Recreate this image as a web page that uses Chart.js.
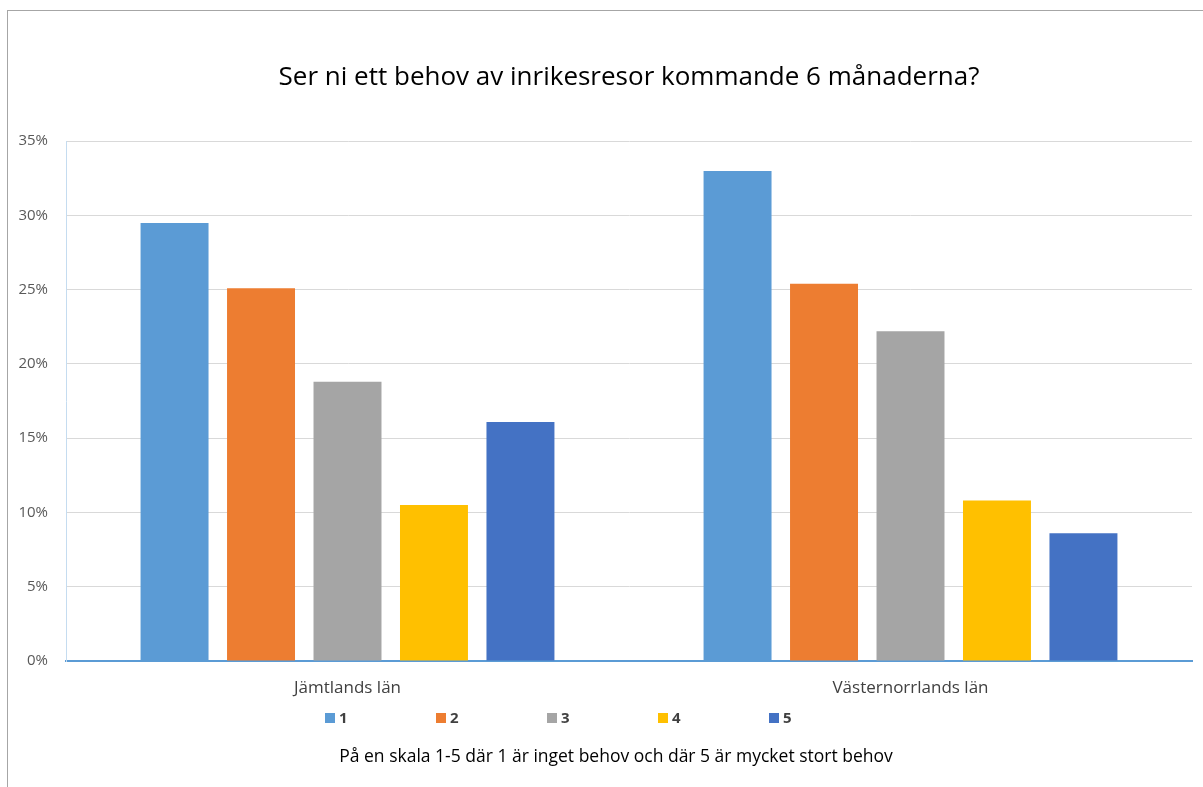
<!DOCTYPE html>
<html lang="sv">
<head>
<meta charset="utf-8">
<title>Inrikesresor</title>
<script src="https://cdn.jsdelivr.net/npm/chart.js@4.4.1/dist/chart.umd.min.js"></script>
<style>
    html, body { margin: 0; padding: 0; background: #ffffff; overflow: hidden; }
    #frame {
        position: absolute;
        left: 7px;
        top: 10px;
        width: 1217px;
        height: 777px;
        border-top: 1px solid #a6a6a6;
        border-left: 1px solid #a6a6a6;
    }
    #chartBox { position: relative; width: 1216px; height: 776px; }
</style>
</head>
<body>
<div id="frame">
    <div id="chartBox"><canvas id="behovChart"></canvas></div>
</div>
<script>
// Data
const regions = ['Jämtlands län', 'Västernorrlands län'];
const scaleSteps = ['1', '2', '3', '4', '5'];
const step1 = [29.5, 33.0];
const step2 = [25.1, 25.4];
const step3 = [18.8, 22.2];
const step4 = [10.5, 10.8];
const step5 = [16.1, 8.6];
const yTicks = [0, 5, 10, 15, 20, 25, 30, 35];

const stepColors = ['#5b9bd5', '#ed7d31', '#a5a5a5', '#ffc000', '#4472c4'];
const seriesValues = [step1, step2, step3, step4, step5];

const fontFamily = '"Open Sans", "Liberation Sans", sans-serif';

// Legend drawn below the category labels, spaced like the original
const bottomLegend = {
    id: 'bottomLegend',
    afterDraw(chart) {
        const ctx = chart.ctx;
        const y = chart.scales.x.bottom + 12;
        const startX = chart.chartArea.left + 259;
        ctx.save();
        ctx.font = 'bold 15px ' + fontFamily;
        ctx.textBaseline = 'middle';
        ctx.textAlign = 'left';
        chart.data.datasets.forEach((ds, i) => {
            const x = startX + i * 111;
            ctx.fillStyle = ds.backgroundColor;
            ctx.fillRect(x, y - 5, 10, 10);
            ctx.fillStyle = '#404040';
            ctx.fillText(ds.label, x + 14, y + 1);
        });
        ctx.restore();
    }
};

const ctx = document.getElementById('behovChart').getContext('2d');

const behovChart = new Chart(ctx, {
    type: 'bar',
    data: {
        labels: regions,
        datasets: scaleSteps.map((label, i) => ({
            label: label,
            data: seriesValues[i],
            backgroundColor: stepColors[i],
            borderWidth: 0,
            categoryPercentage: 0.768,
            barPercentage: 0.786
        }))
    },
    options: {
        responsive: true,
        maintainAspectRatio: false,
        animation: false,
        layout: { padding: 0 },
        scales: {
            x: {
                grid: { display: false, drawTicks: false },
                border: { color: '#5b9bd5', width: 2 },
                ticks: {
                    padding: 17,
                    color: '#404040',
                    font: { family: fontFamily, size: 17 }
                },
                afterFit(scale) { scale.height = 45; }
            },
            y: {
                min: 0,
                max: 35,
                afterBuildTicks(scale) {
                    scale.ticks = yTicks.map(v => ({ value: v }));
                },
                grid: { color: '#d9d9d9', lineWidth: 1, drawTicks: false },
                border: { color: '#c5dcf0', width: 1 },
                ticks: {
                    padding: 18,
                    color: '#595959',
                    font: { family: fontFamily, size: 15 },
                    callback: v => v + '%'
                },
                afterFit(scale) { scale.width = 58; }
            },
            // empty right margin, keeps the plot clear of the frame edge
            spacer: {
                position: 'right',
                grid: { display: false },
                border: { display: false },
                ticks: { display: false },
                afterFit(scale) { scale.width = 32; }
            }
        },
        plugins: {
            legend: { display: false },
            tooltip: { enabled: false },
            title: {
                display: true,
                fullSize: false,
                text: 'Ser ni ett behov av inrikesresor kommande 6 månaderna?',
                color: '#000000',
                font: { family: fontFamily, size: 26, weight: 'normal' },
                padding: { top: 51, bottom: 48 }
            },
            subtitle: {
                display: true,
                position: 'bottom',
                text: 'På en skala 1-5 där 1 är inget behov och där 5 är mycket stort behov',
                color: '#000000',
                font: { family: fontFamily, size: 17.5 },
                padding: { top: 41, bottom: 19 }
            }
        }
    },
    plugins: [bottomLegend]
});
</script>
</body>
</html>
